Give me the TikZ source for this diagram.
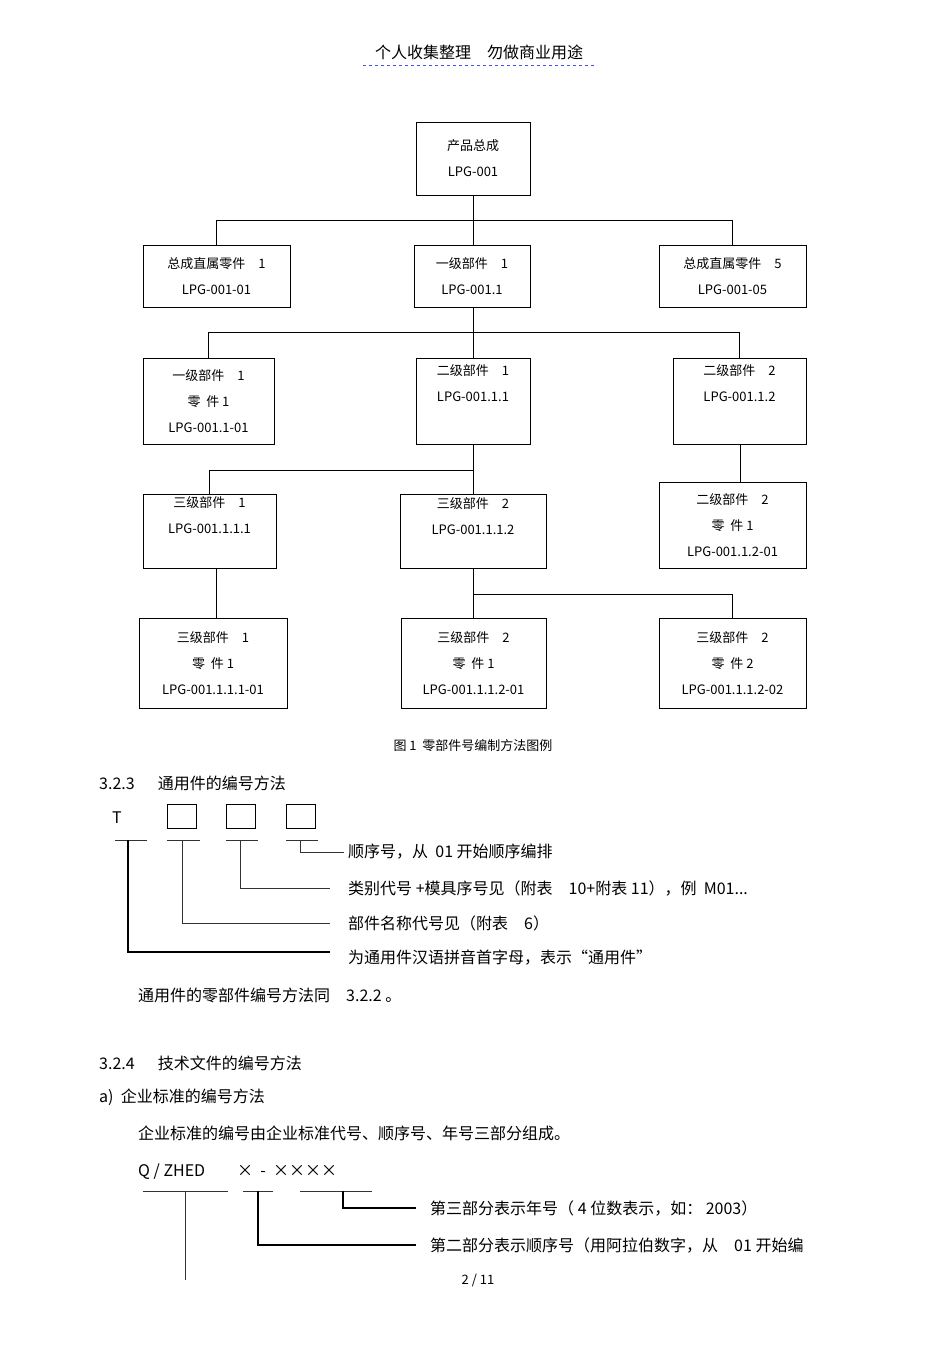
\documentclass[tikz,border=0pt]{standalone}
\usepackage{fontspec}
\setmainfont{Noto Sans CJK SC}
\usetikzlibrary{positioning,calc}
\tikzset{
  part/.style={draw,thick,align=center,inner sep=0pt,font=\fontsize{13}{26}\selectfont},
  body/.style={anchor=west,inner sep=0pt,font=\fontsize{16}{18}\selectfont},
  lead/.style={line width=0.8pt,black!80}
}
\newcommand{\partbox}[6]{% name, left, top, right, bottom, text
  \node[part,minimum width=#4-#2,minimum height=#5-#3] (#1) at ({(#2+#4)/2},{(#3+#5)/2}) {#6};}
\begin{document}
\begin{tikzpicture}[x=1pt,y=-1pt]
\useasboundingbox (0,0) rectangle (950,1345);

% header
\node[font=\fontsize{16}{18}\selectfont] (head) at (479,52) {个人收集整理\quad 勿做商业用途};
\draw[blue!70,dashed] (363,65) -- (597,65);

% tree of parts
\partbox{top}{416}{122}{530}{195}{产品总成\\LPG-001}
\partbox{a1}{143}{245}{290}{307}{总成直属零件\quad 1\\LPG-001-01}
\partbox{a2}{414}{245}{530}{307}{一级部件\quad 1\\LPG-001.1}
\partbox{a3}{659}{245}{806}{307}{总成直属零件\quad 5\\LPG-001-05}
\partbox{b1}{143}{358}{274}{444}{一级部件\quad 1\\零\ \ 件 1\\LPG-001.1-01}
\partbox{b2}{416}{358}{530}{444}{二级部件\quad 1\\LPG-001.1.1\\[10pt]}
\partbox{b3}{673}{358}{806}{444}{二级部件\quad 2\\LPG-001.1.2\\[10pt]}
\partbox{c1}{143}{494}{276}{568}{三级部件\quad 1\\LPG-001.1.1.1\\[6pt]}
\partbox{c2}{400}{494}{546}{568}{三级部件\quad 2\\LPG-001.1.1.2\\[4pt]}
\partbox{c3}{659}{482}{806}{568}{二级部件\quad 2\\零\ \ 件 1\\LPG-001.1.2-01}
\partbox{d1}{139}{618}{287}{708}{三级部件\quad 1\\零\ \ 件 1\\LPG-001.1.1.1-01}
\partbox{d2}{401}{618}{546}{708}{三级部件\quad 2\\零\ \ 件 1\\LPG-001.1.1.2-01}
\partbox{d3}{659}{618}{806}{708}{三级部件\quad 2\\零\ \ 件 2\\LPG-001.1.1.2-02}

\coordinate (j1) at (473,220);
\coordinate (j2) at (473,332);
\coordinate (j3) at (473,470);
\coordinate (j4) at (473,594);
\coordinate (j5) at (740,444);
\coordinate (j6) at (216,568);
\draw (j1 |- top.south) -- (j1);
\draw (j1) -| (a1.north); \draw (j1) -- (j1 |- a2.north); \draw (j1) -| (a3.north);
\draw (j2 |- a2.south) -- (j2);
\draw (j2) -| (b1.north); \draw (j2) -- (j2 |- b2.north); \draw (j2) -| (b3.north);
\draw (j3 |- b2.south) -- (j3);
\draw (j3) -| (c1.north); \draw (j3) -- (j3 |- c2.north);
\draw (j5) -- (j5 |- c3.north);
\draw (j6) -- (j6 |- d1.north);
\draw (j4 |- c2.south) -- (j4);
\draw (j4) -- (j4 |- d2.north); \draw (j4) -| (d3.north);

\node[font=\fontsize{13}{15}\selectfont] (cap) at (473,746) {图\ 1\ \ 零部件号编制方法图例};

% 3.2.3
\node[body] (s323) at (99,783) {3.2.3\quad\ \ 通用件的编号方法};
\node[body] (t) at (112,818) {T};
\foreach \n/\l in {k1/167,k2/226,k3/286}
  \node[draw,thick,minimum width=29,minimum height=24,inner sep=0pt] (\n) at (\l+15,816) {};
\foreach \n/\y/\txt in {r1/852/{顺序号，从\ \ 01 开始顺序编排},
    r2/888/{类别代号 +模具序号见（附表\quad 10+附表 11），例\ \ M01...},
    r3/923/{部件名称代号见（附表\quad 6）},
    r4/958/{为通用件汉语拼音首字母，表示“通用件”}}
  \node[body] (\n) at (348,\y) {\txt};
\foreach \a/\b in {115/147,167/200,226/258,286/318}
  \draw[lead] (\a,840) -- (\b,840);
\draw[lead] (300,840) |- ([xshift=-4pt]r1.west);
\draw[lead] (240,840) |- ([xshift=-18pt]r2.west);
\draw[lead] (182,840) |- ([xshift=-18pt]r3.west);
\draw[line width=1.2pt] (128,840) |- ([xshift=-18pt,yshift=6pt]r4.west);
\node[body] (same) at (138,995) {通用件的零部件编号方法同\quad 3.2.2\ 。};

% 3.2.4
\node[body] (s324) at (99,1063) {3.2.4\quad\ \ 技术文件的编号方法};
\node[body] (sa) at (99,1097) {a)\ \ 企业标准的编号方法};
\node[body] (sb) at (138,1133) {企业标准的编号由企业标准代号、顺序号、年号三部分组成。};
\node[body] (code) at (138,1172) {Q / ZHED\qquad ×\ \ -\ \ ××××};
\node[body] (q1) at (430,1208) {第三部分表示年号（\ 4 位数表示，如：\ 2003）};
\node[body] (q2) at (430,1245) {第二部分表示顺序号（用阿拉伯数字，从\quad 01 开始编};
\foreach \a/\b in {143/228,243/273,300/372}
  \draw[lead] (\a,1191) -- (\b,1191);
\draw[lead] (185,1191) -- (185,1280);
\draw[line width=1.2pt] (258,1191) |- ([xshift=-14pt]q2.west);
\draw[line width=1.2pt] (343,1191) |- ([xshift=-14pt]q1.west);
\node[font=\fontsize{13}{15}\selectfont] (page) at (478,1280) {2 / 11};
\end{tikzpicture}
\end{document}
